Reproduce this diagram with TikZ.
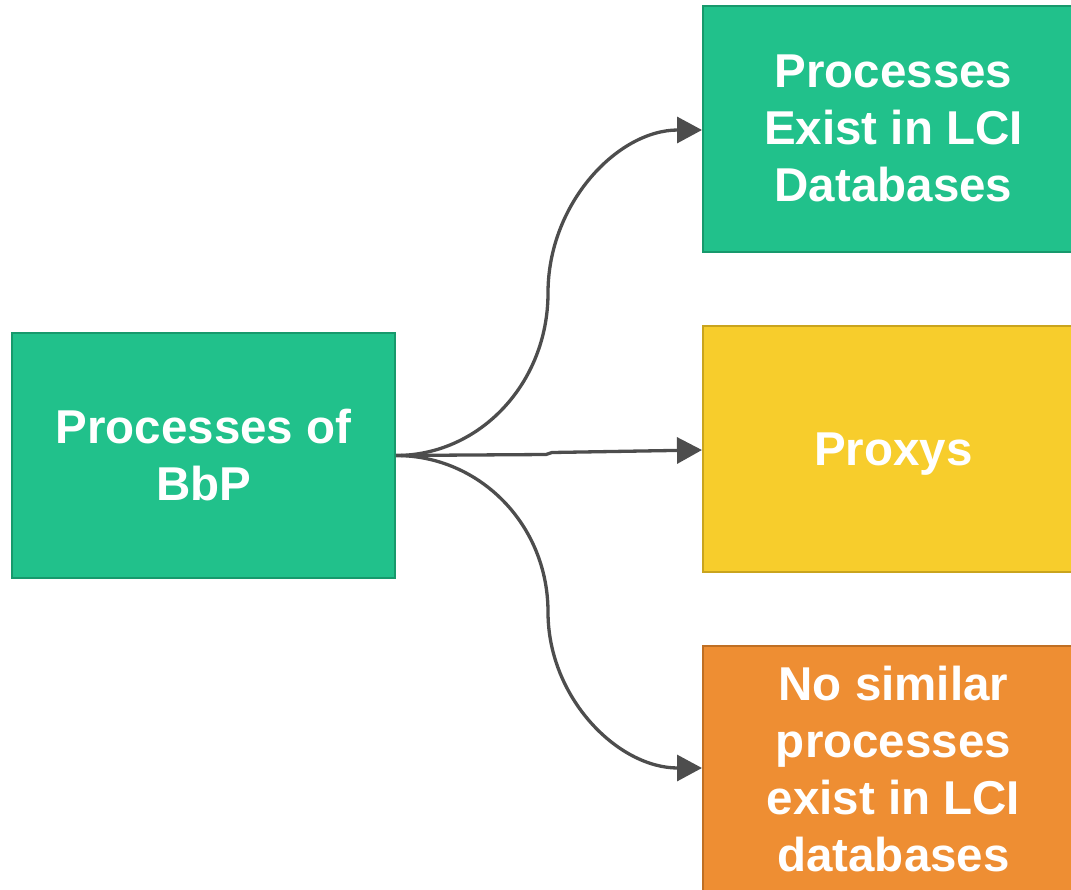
\documentclass[tikz,border=0pt]{standalone}
\usepackage{fontspec}
\setmainfont{Liberation Sans}
\usetikzlibrary{arrows.meta}
\definecolor{gfill}{HTML}{21C18B}
\definecolor{gdraw}{HTML}{17996C}
\definecolor{yfill}{HTML}{F7CD2C}
\definecolor{ydraw}{HTML}{C9A41E}
\definecolor{ofill}{HTML}{EE8E33}
\definecolor{odraw}{HTML}{BF6F24}
\definecolor{arr}{HTML}{4D4D4D}
\tikzset{
  box/.style={rectangle, line width=2pt, inner sep=0pt, align=center,
    text=white, font=\fontsize{47.5}{57}\selectfont\bfseries},
  conn/.style={draw=arr, line width=3.3pt, -{Triangle[length=25pt,width=26pt]}}
}
\begin{document}
\begin{tikzpicture}[x=1pt,y=-1pt]
\useasboundingbox (0,0) rectangle (1071,889);
\clip (0,0) rectangle (1071,889);
\node[box, fill=gfill, draw=gdraw, minimum width=383pt, minimum height=245pt] (src) at (203.5,455.5) {Processes of\\BbP};
\node[box, fill=gfill, draw=gdraw, minimum width=381pt, minimum height=246pt] (db) at (893.5,128.5) {Processes\\Exist in LCI\\Databases};
\node[box, fill=yfill, draw=ydraw, minimum width=381pt, minimum height=246pt, text depth=0pt] (px) at (893.5,449) {Proxys};
\node[box, fill=ofill, draw=odraw, minimum width=381pt, minimum height=246pt] (no) at (893.5,769) {No similar\\processes\\exist in LCI\\databases};
\coordinate (m1) at (546,454.5);
\coordinate (m2) at (552,452.5);
\coordinate (u) at (548,293);
\coordinate (d) at (548,612);
\draw[conn] (src.east) .. controls (480,455.5) and (548,383) .. (u)
  .. controls (548,203) and (618,130) .. (db.west |- 0,130);
\draw[conn] (src.east) -- (m1) -- (m2) -- (px.west |- 0,450);
\draw[conn] (src.east) .. controls (480,455.5) and (548,525) .. (d)
  .. controls (548,698) and (618,768) .. (no.west |- 0,768);
\end{tikzpicture}
\end{document}
